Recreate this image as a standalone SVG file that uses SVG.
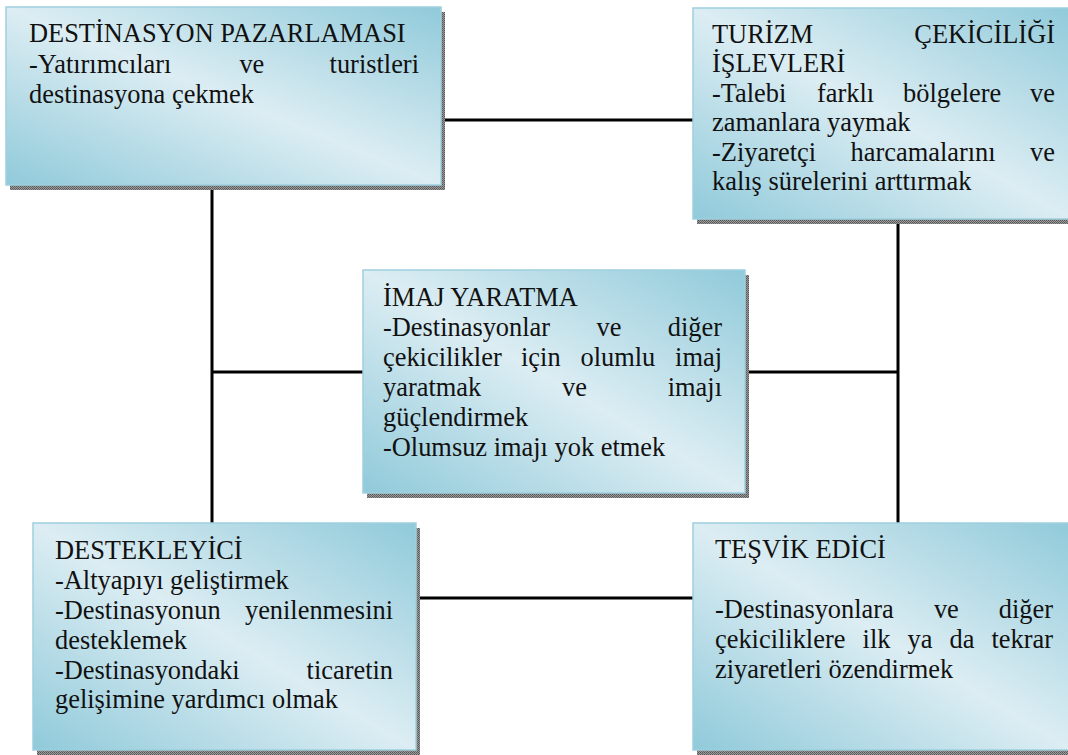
<svg xmlns="http://www.w3.org/2000/svg" width="1068" height="755" viewBox="0 0 1068 755" font-family="Liberation Serif, Times New Roman, serif">
  <style>
    .box { fill: url(#boxFill); stroke: #9fd0de; stroke-width: 1.5; }
    .shadow { fill: url(#shadowHatch); }
    text { font-family: 'Liberation Serif', serif; font-size: 26.4px; fill: #111; }
    .e { text-anchor: end; }
    .conn line { stroke: #000; stroke-width: 3; }
  </style>
  <defs>
    <linearGradient id="boxFill" x1="0" y1="1" x2="1" y2="0">
      <stop offset="0" stop-color="#90cada"/>
      <stop offset="0.5" stop-color="#dcedf3"/>
      <stop offset="1" stop-color="#90cada"/>
    </linearGradient>
    <pattern id="shadowHatch" width="2" height="2" patternUnits="userSpaceOnUse">
      <rect width="2" height="2" fill="#9a9a9a"/>
      <rect width="1" height="1" fill="#555"/>
      <rect x="1" y="1" width="1" height="1" fill="#666"/>
    </pattern>
  </defs>

  <rect width="1068" height="755" fill="#fff"/>

  <!-- connectors -->
  <g id="connectors" class="conn">
    <line x1="212" y1="185" x2="212" y2="523"/>
    <line x1="441" y1="120" x2="693" y2="120"/>
    <line x1="898" y1="219" x2="898" y2="523"/>
    <line x1="212" y1="372" x2="363" y2="372"/>
    <line x1="745" y1="372" x2="898" y2="372"/>
    <line x1="416" y1="598" x2="693" y2="598"/>
  </g>

  <!-- destination marketing -->
  <g id="node-pazarlama">
    <rect class="shadow" x="10" y="12" width="435" height="178"/>
    <rect class="box" x="6" y="7" width="435" height="178"/>
    <text x="29" y="42">DESTİNASYON PAZARLAMASI</text>
    <text x="29" y="72.5">-Yatırımcıları</text>
    <text x="239.4" y="72.5">ve</text>
    <text class="e" x="419" y="72.5">turistleri</text>
    <text x="29" y="103">destinasyona çekmek</text>
  </g>

  <!-- tourism attraction functions -->
  <g id="node-turizm">
    <rect class="shadow" x="697" y="13" width="380" height="211"/>
    <rect class="box" x="693" y="8" width="380" height="211"/>
    <text x="712" y="42.5">TURİZM</text>
    <text class="e" x="1055" y="42.5">ÇEKİCİLİĞİ</text>
    <text x="712" y="72">İŞLEVLERİ</text>
    <text x="712" y="101.5">-Talebi</text>
    <text x="817" y="101.5">farklı</text>
    <text x="903" y="101.5">bölgelere</text>
    <text class="e" x="1055" y="101.5">ve</text>
    <text x="712" y="131">zamanlara yaymak</text>
    <text x="712" y="160.5">-Ziyaretçi</text>
    <text x="850.6" y="160.5">harcamalarını</text>
    <text class="e" x="1055" y="160.5">ve</text>
    <text x="712" y="190">kalış sürelerini arttırmak</text>
  </g>

  <!-- image creation -->
  <g id="node-imaj">
    <rect class="shadow" x="367" y="275" width="382" height="223"/>
    <rect class="box" x="363" y="270" width="382" height="223"/>
    <text x="383" y="306">İMAJ YARATMA</text>
    <text x="383" y="336">-Destinasyonlar</text>
    <text x="596.5" y="336">ve</text>
    <text class="e" x="722" y="336">diğer</text>
    <text x="383" y="366">çekicilikler</text>
    <text x="521" y="366">için</text>
    <text x="580.5" y="366">olumlu</text>
    <text class="e" x="722" y="366">imaj</text>
    <text x="383" y="396">yaratmak</text>
    <text x="562" y="396">ve</text>
    <text class="e" x="722" y="396">imajı</text>
    <text x="383" y="426">güçlendirmek</text>
    <text x="383" y="456">-Olumsuz imajı yok etmek</text>
  </g>

  <!-- supporting -->
  <g id="node-destekleyici">
    <rect class="shadow" x="37" y="528" width="383" height="227"/>
    <rect class="box" x="33" y="523" width="383" height="227"/>
    <text x="55" y="559">DESTEKLEYİCİ</text>
    <text x="55" y="589">-Altyapıyı geliştirmek</text>
    <text x="55" y="619">-Destinasyonun</text>
    <text class="e" x="393" y="619">yenilenmesini</text>
    <text x="55" y="649">desteklemek</text>
    <text x="55" y="678.5">-Destinasyondaki</text>
    <text class="e" x="393" y="678.5">ticaretin</text>
    <text x="55" y="708">gelişimine yardımcı olmak</text>
  </g>

  <!-- encouraging -->
  <g id="node-tesvik">
    <rect class="shadow" x="697" y="528" width="380" height="227"/>
    <rect class="box" x="693" y="523" width="380" height="227"/>
    <text x="715" y="558">TEŞVİK EDİCİ</text>
    <text x="715" y="618">-Destinasyonlara</text>
    <text x="933.9" y="618">ve</text>
    <text class="e" x="1053" y="618">diğer</text>
    <text x="715" y="648">çekiciliklere</text>
    <text x="862.6" y="648">ilk</text>
    <text x="907.5" y="648">ya</text>
    <text x="949.5" y="648">da</text>
    <text class="e" x="1053" y="648">tekrar</text>
    <text x="715" y="678">ziyaretleri özendirmek</text>
  </g>
</svg>
